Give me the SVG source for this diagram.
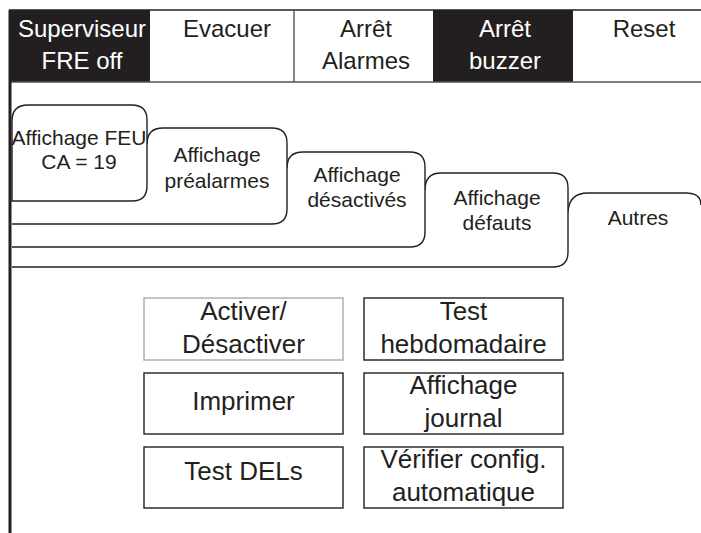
<svg xmlns="http://www.w3.org/2000/svg" width="701" height="533" viewBox="0 0 701 533">
<style>
text{font-family:"Liberation Sans",Arial,sans-serif;text-anchor:middle;fill:#231f20}
.hd{font-size:24px}
.hw{fill:#fff}
.tb{font-size:21px}
.bx{font-size:26px}
.tab{fill:#fff;stroke:#231f20;stroke-width:1.4}
.box{fill:#fff;stroke:#231f20;stroke-width:1.4}
.ln{stroke:#231f20;stroke-width:1.6;fill:none}
</style>
<rect width="701" height="533" fill="#fff"/>
<g id="header">
  <rect x="9" y="10" width="141" height="72" fill="#231f20"/>
  <rect x="433" y="10" width="140" height="72" fill="#231f20"/>
  <line class="ln" x1="9" y1="10" x2="701" y2="10"/>
  <line x1="9" y1="82" x2="701" y2="82" stroke="#555" stroke-width="1.4"/>
  <line x1="294" y1="10" x2="294" y2="82" stroke="#555" stroke-width="1.4"/>
</g>
<g id="btn-superviseur"><text class="hd hw" x="82" y="37">Superviseur</text><text class="hd hw" x="82" y="69">FRE off</text></g>
<g id="btn-evacuer"><text class="hd" x="227" y="37">Evacuer</text></g>
<g id="btn-arret-alarmes"><text class="hd" x="366" y="37">Arrêt</text><text class="hd" x="366" y="69">Alarmes</text></g>
<g id="btn-arret-buzzer"><text class="hd hw" x="505" y="37">Arrêt</text><text class="hd hw" x="505" y="69">buzzer</text></g>
<g id="btn-reset"><text class="hd" x="644" y="37">Reset</text></g>
<g id="frame">
  <line x1="10" y1="10" x2="10" y2="533" stroke="#231f20" stroke-width="3"/>
</g>
<g id="tab-autres">
  <path class="tab" d="M568 212 Q569 193 588 193 L686 193 Q701 193 701 205"/>
  <text class="tb" x="638" y="225">Autres</text>
</g>
<g id="tab-defauts">
  <path class="tab" d="M425 190 Q425 173 441 173 L553 173 Q568 173 568 188 L568 252 Q568 267 553 267 L12 267"/>
  <text class="tb" x="497" y="205">Affichage</text><text class="tb" x="497" y="230">défauts</text>
</g>
<g id="tab-desactives">
  <path class="tab" d="M287 168 Q287 152 303 152 L410 152 Q425 152 425 167 L425 232 Q425 247 410 247 L12 247"/>
  <text class="tb" x="357" y="182">Affichage</text><text class="tb" x="357" y="207">désactivés</text>
</g>
<g id="tab-prealarmes">
  <path class="tab" d="M147 144 Q147 128 163 128 L272 128 Q287 128 287 143 L287 209 Q287 224 272 224 L12 224"/>
  <text class="tb" x="217" y="162">Affichage</text><text class="tb" x="217" y="188">préalarmes</text>
</g>
<g id="tab-feu">
  <path class="tab" d="M12 201 L12 121 Q12 105 28 105 L132 105 Q147 105 147 120 L147 186 Q147 201 132 201 Z"/>
  <text class="tb" x="79" y="145">Affichage FEU</text><text class="tb" x="79" y="169">CA = 19</text>
</g>
<g id="box-activer">
  <rect x="144" y="298" width="199" height="62" fill="#fff" stroke="#aaa" stroke-width="1.4"/>
  <text class="bx" x="243.5" y="320">Activer/</text><text class="bx" x="243.5" y="353">Désactiver</text>
</g>
<g id="box-test-hebdo">
  <rect class="box" x="364" y="298" width="199" height="62"/>
  <text class="bx" x="463.5" y="320">Test</text><text class="bx" x="463.5" y="353">hebdomadaire</text>
</g>
<g id="box-imprimer">
  <rect class="box" x="144" y="373" width="199" height="61"/>
  <text class="bx" x="243.5" y="410">Imprimer</text>
</g>
<g id="box-journal">
  <rect class="box" x="364" y="373" width="199" height="61"/>
  <text class="bx" x="463.5" y="394">Affichage</text><text class="bx" x="463.5" y="427">journal</text>
</g>
<g id="box-test-dels">
  <rect class="box" x="144" y="447" width="199" height="61"/>
  <text class="bx" x="243.5" y="480">Test DELs</text>
</g>
<g id="box-verifier">
  <rect class="box" x="364" y="447" width="199" height="61"/>
  <text class="bx" x="463.5" y="468">Vérifier config.</text><text class="bx" x="463.5" y="501">automatique</text>
</g>
</svg>
